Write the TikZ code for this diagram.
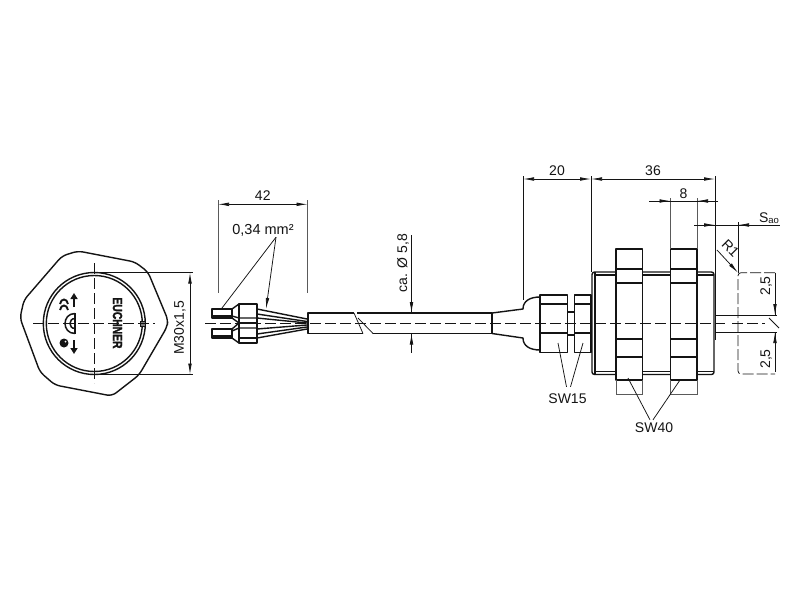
\documentclass[tikz,border=0pt]{standalone}
\usepackage{fontspec}
\setmainfont{Liberation Sans}
\newfontfamily\brandfont[BoldFeatures={FakeBold=2.5}]{Liberation Sans}
\usetikzlibrary{arrows.meta}
\definecolor{ink}{HTML}{141414}
\tikzset{
  outline/.style={draw=ink,line width=1.4pt,line join=round},
  thinline/.style={draw=ink,line width=0.75pt},
  extline/.style={draw=ink!70,line width=0.8pt},
  axisline/.style={draw=ink,line width=0.9pt,dash pattern=on 11pt off 4pt},
  dimtip/.style={arrows={Latex[length=11pt,width=3.6pt]-Latex[length=11pt,width=3.6pt]}},
  endtip/.style={arrows={-Latex[length=11pt,width=3.6pt]}},
  symtip/.style={arrows={-Triangle[length=6pt,width=7pt]}},
  dimlabel/.style={text=ink,inner sep=1pt,font=\fontsize{14}{16}\selectfont},
}
\newcommand{\tikzhdim}[5]{%
\draw[thinline,dimtip] (#1,#3) -- (#2,#3) node[midway,above=2pt,dimlabel] (#4) {#5};
}
\newcommand{\tikznut}[1]{%
\pgfmathsetmacro{\nutend}{#1+26.5}
% nut outline
\draw[outline,fill=white] (#1,249) rectangle (\nutend,380);
\foreach \nutline in {269,283,339,357} {
  \draw[outline] (#1,\nutline) -- (\nutend,\nutline);
}
% lower flats
\draw[extline] (#1,380) -- (#1,394) -- (\nutend,394) -- (\nutend,380);
}
\begin{document}
\begin{tikzpicture}[x=1pt,y=-1pt]
\useasboundingbox[fill=white] (0,0) rectangle (800,600);
% front view
\draw[outline,rounded corners=5pt] (78,251) -- (135,262) -- (148,272) -- (168,320) -- (167,327) -- (139,375) -- (112,396) -- (55,385) -- (40,372) -- (20,318) -- (24,300) -- (62,256) -- cycle;
\draw[outline] (94.3,323.5) circle[radius=51pt];
\draw[outline] (94.3,323.5) circle[radius=48pt];
\draw[thinline,fill=ink!55] (140,321) rectangle (145,326);
\draw[axisline] (33,323.5) -- (155,323.5);
\draw[axisline] (94.3,263) -- (94.3,383);
\node[rotate=-90,inner sep=0pt,text=ink] (brand) at (117.5,323) {\scalebox{0.86}[1.1]{\fontsize{12}{12}\brandfont\bfseries EUCHNER}};
% symbols
\draw[draw=ink,line width=2.2pt,symtip] (74,307) -- (74,293);
\draw[draw=ink,line width=2.2pt,symtip] (74,340) -- (74,354);
\draw[draw=ink,line width=1.9pt] (60,304) .. controls (61,298) and (67,298) .. (68,304);
\draw[draw=ink,line width=1.9pt] (60,310) .. controls (61,304) and (67,304) .. (68,310);
\fill[ink] (64,343) circle[radius=4.5pt];
\fill[white] (65.5,341.5) circle[radius=1pt];
\draw[draw=ink,line width=1.5pt] (75,313) -- (75,334);
\draw[draw=ink,line width=1.5pt] (75,313.5) .. controls (61.7,313.5) and (61.7,333.5) .. (75,333.5);
\draw[draw=ink,line width=1.5pt] (75,318.5) .. controls (68.3,318.5) and (68.3,328.5) .. (75,328.5);
% thread dimension
\draw[thinline] (94.3,272.5) -- (193,272.5);
\draw[thinline] (94.3,374.5) -- (193,374.5);
\draw[thinline,dimtip] (190,272.5) -- (190,374.5);
\node[dimlabel,rotate=90] (threadlabel) at (180,328) {M30x1,5};
% ferrules
\foreach \ferrule/\tipa/\tipb/\cola/\colb in {0/309/318/304/323,1/329/338/323/343} {
  \draw[outline] (212,\tipa) rectangle (232,\tipb);
  \draw[outline] (232,\tipa) -- (239,\cola);
  \draw[outline] (232,\tipb) -- (239,\colb);
  \draw[outline] (239,\cola) rectangle (257,\colb);
}
\draw[outline] (212,316) -- (232,316);
\draw[outline] (212,336) -- (232,336);
\draw[outline] (232,316) -- (239,318) -- (257,318);
\draw[outline] (232,331) -- (239,328) -- (257,328);
\draw[outline] (239,338) -- (257,338);
% wires
\foreach \wirea/\wireb in {309/319,314/321.5,318/323,329/325,334/327,338/329} {
  \draw[outline] (257,\wirea) -- (307,\wireb);
}
% cable
\draw[outline] (354,313) -- (308,313) -- (308,333.5) -- (363,333.5);
\draw[outline] (357,313) -- (492,313);
\draw[outline] (373,333.5) -- (492,333.5);
\draw[thinline] (354,313) -- (363,333.5);
\draw[thinline] (358,318) -- (373,333.5);
% gland
\draw[outline] (492,313) -- (492,333.5);
\draw[outline] (492,313) -- (523,309) .. controls (523,301) and (530,297) .. (540,297);
\draw[outline] (492,333.5) -- (523,338) .. controls (523,346) and (530,350) .. (540,350);
\draw[outline] (540,295) rectangle (567.5,352.5);
\draw[outline] (574.5,295) rectangle (591,352.5);
\foreach \flatline in {304,333} {
  \draw[outline] (540,\flatline) -- (567.5,\flatline);
  \draw[outline] (574.5,\flatline) -- (591,\flatline);
}
\draw[outline] (567.5,312) -- (574.5,312);
\draw[outline] (567.5,335) -- (574.5,335);
% body
\draw[outline,rounded corners=2.5pt] (592,272) rectangle (714,374.5);
\draw[outline] (595,272) -- (595,374.5);
\draw[outline] (595,275) -- (714,275);
\draw[outline] (595,371.5) -- (714,371.5);
\draw[outline] (715.5,290) -- (715.5,340);
\tikznut{616}
\tikznut{670.5}
% sensing face
\draw[thinline] (715,315) -- (777,315);
\draw[thinline] (715,332) -- (777,332);
\draw[axisline] (205,323.5) -- (725,323.5);
\draw[axisline] (732,323.5) -- (765,323.5);
\draw[thinline,dash pattern=on 11pt off 3pt,rounded corners=3pt] (775,272.7) -- (738,272.7) -- (738,374) -- (775,374);
\draw[thinline] (769,318) -- (779,328);
% dimensions
\draw[extline] (218,200) -- (218,293);
\draw[extline] (307.5,200) -- (307.5,293);
\tikzhdim{218}{307.5}{204.3}{wirelength}{42}
\node[dimlabel] (wiresize) at (263,230) {\fontsize{14.5}{16}\selectfont 0,34 mm²};
\coordinate (wiretipa) at (222,308);
\coordinate (wiretipb) at (266,309);
\draw[thinline] ([xshift=13pt]wiresize.south) -- (wiretipa);
\draw[thinline,endtip] ([xshift=13pt]wiresize.south) -- (wiretipb);
\draw[thinline] (411.5,235) -- (411.5,313);
\draw[thinline] (411.5,333.5) -- (411.5,353);
\draw[thinline,endtip] (411.5,300) -- (411.5,313);
\draw[thinline,endtip] (411.5,346) -- (411.5,333.5);
\node[dimlabel,rotate=90] (cablelabel) at (403,263) {ca. Ø 5,8};
\draw[thinline] (523,176) -- (523,300);
\draw[thinline] (591,176) -- (591,272);
\draw[thinline] (715,176) -- (715,300);
\tikzhdim{523}{591}{179}{glandlength}{20}
\tikzhdim{591}{715}{179}{bodylength}{36}
\draw[extline] (670.5,198) -- (670.5,249);
\draw[extline] (697,198) -- (697,249);
\draw[thinline] (649,201) -- (718,201);
\draw[thinline,endtip] (649,201) -- (670.5,201);
\draw[thinline,endtip] (718,201) -- (697,201);
\node[dimlabel] (nutwidth) at (683.5,194) {8};
% switching distance
\draw[thinline] (738,222) -- (738,272.7);
\draw[thinline] (694,225) -- (780,225);
\draw[thinline,endtip] (694,225) -- (715,225);
\draw[thinline,endtip] (775,225) -- (738,225);
\node[dimlabel] (distance) at (769,218) {S\raisebox{-1.5pt}{\fontsize{9.5}{10}\selectfont ao}};
\coordinate (radiustip) at (738,272.7);
\draw[thinline,endtip] (717,250) -- (radiustip);
\node[dimlabel,rotate=-45] (radiuslabel) at (730.5,248.5) {R1};
\draw[thinline] (775,273) -- (775,315);
\draw[thinline] (775,332) -- (775,372);
\draw[thinline,endtip] (775,303) -- (775,315);
\draw[thinline,endtip] (775,344) -- (775,332);
\node[dimlabel,rotate=90] (upperface) at (766,286) {2,5};
\node[dimlabel,rotate=90] (lowerface) at (766,359) {2,5};
% wrench sizes
\node[dimlabel] (swsmall) at (567.5,399) {SW15};
\node[dimlabel] (swlarge) at (654,428) {SW40};
\coordinate (smallnuta) at (558,343);
\coordinate (smallnutb) at (583,343);
\coordinate (largenuta) at (628,378);
\coordinate (largenutb) at (680,380);
\draw[thinline] ([xshift=-1pt,yshift=6pt]swsmall.north) -- (smallnuta);
\draw[thinline] ([xshift=3pt,yshift=6pt]swsmall.north) -- (smallnutb);
\draw[thinline] ([xshift=-4pt,yshift=2pt]swlarge.north) -- (largenuta);
\draw[thinline] ([xshift=-1pt,yshift=2pt]swlarge.north) -- (largenutb);
\end{tikzpicture}
\end{document}
